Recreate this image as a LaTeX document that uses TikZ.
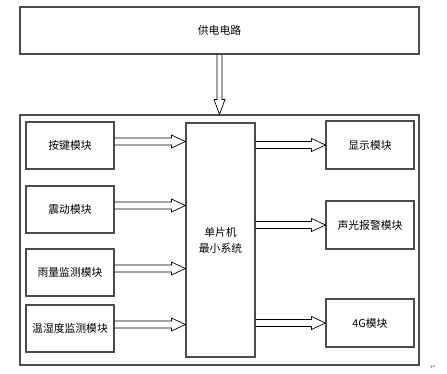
\documentclass[tikz,border=0pt]{standalone}
\usepackage{fontspec}
\setmainfont{Noto Sans CJK SC}
\newfontfamily\symfont{DejaVu Sans}
\usetikzlibrary{calc}
\begin{document}
\begin{tikzpicture}[x=1pt,y=-1pt,
  box/.style={draw=black!70,line width=1.1pt,inner sep=0pt,align=center,font=\fontsize{10.8}{16}\selectfont},
  harr/.style={draw=black,line width=0.7pt,line join=miter,
    to path={let \p1=(\tikztostart), \p2=(\tikztotarget) in
      (\x1,{\y1+3.5pt}) -- ({\x2-14pt},{\y1+3.5pt}) -- ({\x2-14pt},{\y1+6.5pt}) -- (\x2,\y1)
      -- ({\x2-14pt},{\y1-6.5pt}) -- ({\x2-14pt},{\y1-3.5pt}) -- (\x1,{\y1-3.5pt})}},
  varr/.style={draw=black,line width=0.7pt,line join=miter,
    to path={let \p1=(\tikztostart), \p2=(\tikztotarget) in
      ({\x1-2.5pt},\y1) -- ({\x1-2.5pt},{\y2+15pt}) -- ({\x1-5.5pt},{\y2+15pt}) -- (\x1,\y2)
      -- ({\x1+5.5pt},{\y2+15pt}) -- ({\x1+2.5pt},{\y2+15pt}) -- ({\x1+2.5pt},\y1)}}]
\useasboundingbox (0,0) rectangle (447,373);
\fill[white] (0,0) rectangle (447,373);
\node[box,minimum width=399pt,minimum height=47pt] (power) at (219.5,30.5) {供电电路};
\node[box,minimum width=399pt,minimum height=250pt] (outer) at (219.5,240) {};
\node[box,minimum width=88pt,minimum height=47pt] (k1) at (70,145.5) {按键模块};
\node[box,minimum width=88pt,minimum height=47pt] (k2) at (70,209.5) {震动模块};
\node[box,minimum width=88pt,minimum height=47pt] (k3) at (70,272.5) {雨量监测模块};
\node[box,minimum width=88pt,minimum height=47pt] (k4) at (70,328.5) {温湿度监测模块};
\node[box,minimum width=69pt,minimum height=234pt] (mcu) at (220.5,240) {单片机\\最小系统};
\node[box,minimum width=88pt,minimum height=48pt] (r1) at (370,145) {显示模块};
\node[box,minimum width=88pt,minimum height=48pt] (r2) at (370,225) {声光报警模块};
\node[box,minimum width=88pt,minimum height=48pt] (r3) at (370,323) {4G模块};
\draw[varr] (power.south) to (outer.north);
\foreach \k in {k1,k2,k3,k4}{\draw[harr] ([yshift=4pt]\k.east) to (mcu.west);}
\foreach \r in {r1,r2,r3}{\draw[harr] (mcu.east |- \r.west) to (\r.west);}
\node[font=\symfont\fontsize{7}{8}\selectfont,text=black!50,inner sep=0pt] (ret) at (433,367) {↵};
\end{tikzpicture}
\end{document}
